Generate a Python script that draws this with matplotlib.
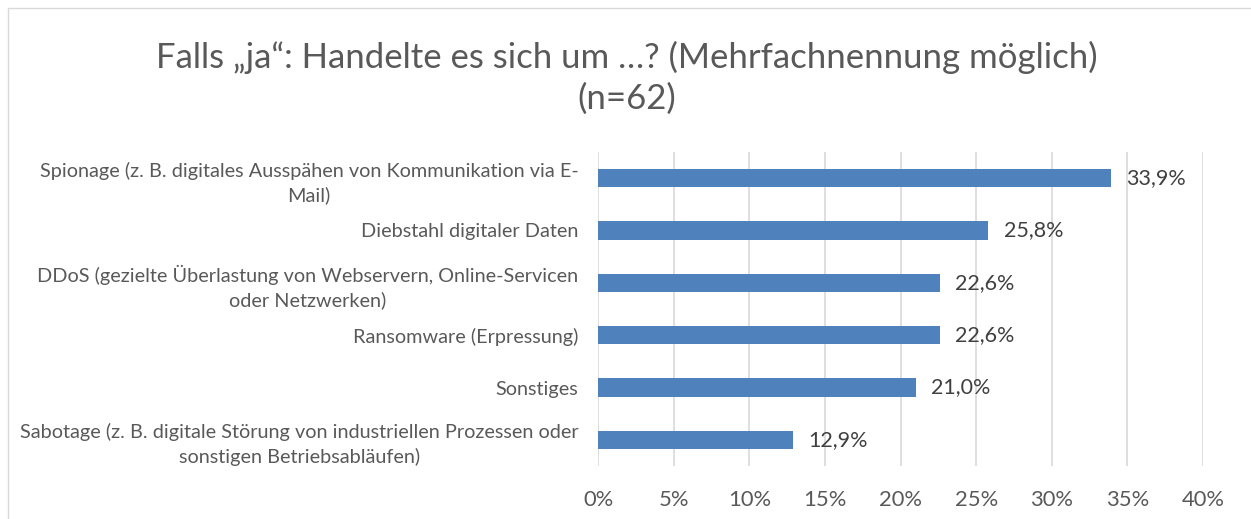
import matplotlib
matplotlib.use("Agg")
import matplotlib.pyplot as plt
from matplotlib.patches import Rectangle

plt.rcParams['font.family'] = ['Lato', 'DejaVu Sans']

title = "Falls \u201eja\u201c: Handelte es sich um \u2026? (Mehrfachnennung m\u00f6glich)\n(n=62)"
categories = [
    "Spionage (z. B. digitales Aussp\u00e4hen von Kommunikation via E-\nMail)",
    "Diebstahl digitaler Daten",
    "DDoS (gezielte \u00dcberlastung von Webservern, Online-Servicen\noder Netzwerken)",
    "Ransomware (Erpressung)",
    "Sonstiges",
    "Sabotage (z. B. digitale St\u00f6rung von industriellen Prozessen oder\nsonstigen Betriebsabl\u00e4ufen)",
]
values = [33.9, 25.8, 22.6, 22.6, 21.0, 12.9]
value_labels = ["33,9%", "25,8%", "22,6%", "22,6%", "21,0%", "12,9%"]
xticks = [0, 5, 10, 15, 20, 25, 30, 35, 40]
xtick_labels = ["0%", "5%", "10%", "15%", "20%", "25%", "30%", "35%", "40%"]

W, H = 1251, 519
fig = plt.figure(figsize=(W / 100, H / 100), dpi=100)
fig.patch.set_facecolor('white')

# chart area border
fig.add_artist(Rectangle((8 / W, -0.05), 1.2, 1 - 8 / H + 0.05, transform=fig.transFigure,
                         fill=False, edgecolor='#D9D9D9', linewidth=1.0))

ax = fig.add_axes([598 / W, 1 - 466 / H, (1203 - 598) / W, (466 - 152) / H])
n = len(categories)
ypos = list(range(n))
ax.barh(ypos, values, height=0.35, color='#4F81BD', zorder=3)
ax.set_ylim(n - 0.5, -0.5)
ax.set_xlim(0, 40)

ax.set_xticks(xticks)
ax.set_xticklabels(xtick_labels)
ax.set_yticks(ypos)
ax.set_yticklabels(categories, multialignment='center', linespacing=1.42)

ax.tick_params(axis='x', length=0, pad=17, labelsize=15.8, labelcolor='#595959')
ax.tick_params(axis='y', length=0, pad=14, labelsize=14.35, labelcolor='#595959')

ax.grid(axis='x', color='#D9D9D9', linewidth=1.2, zorder=0)
ax.grid(axis='y', visible=False)
for s in ax.spines.values():
    s.set_visible(False)

for y, v, lab in zip(ypos, values, value_labels):
    ax.annotate(lab, (v, y), xytext=(11, 0), textcoords='offset points',
                ha='left', va='center', fontsize=15.5, color='#404040')

fig.text(0.5 * (155 + 1098) / W, 1 - 78 / H, title, ha='center', va='center',
         fontsize=25, color='#595959', linespacing=1.32)

fig.savefig('out.png', dpi=100)
